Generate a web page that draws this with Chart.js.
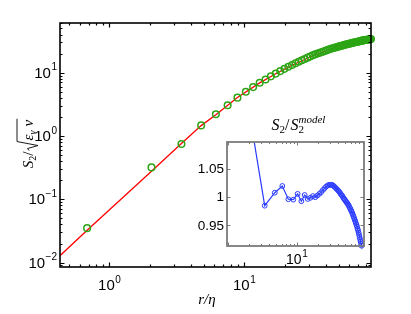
<!DOCTYPE html>
<html><head><meta charset="utf-8">
<script src="https://cdn.jsdelivr.net/npm/chart.js@4.4.1/dist/chart.umd.min.js"></script>
<style>
html,body{margin:0;padding:0;background:#fff;}
#wrap{position:relative;width:411px;height:314px;overflow:hidden;}
#main{position:absolute;left:0;top:0;}
#inset{position:absolute;left:190px;top:105px;}
</style></head><body>
<div id="wrap">
<canvas id="main" width="411" height="314"></canvas>
<canvas id="inset" width="185" height="165"></canvas>
</div>
<script>
// ---- data ----
const rValues = [0.683,2.049,3.415,4.781,6.147,7.513,8.879,10.245,11.611,12.977,14.343,15.709,17.075,18.441,19.807,21.173,
 22.539,23.905,25.271,26.637,28.003,29.369,30.735,32.101,33.467,34.833,36.199,37.565,38.931,40.297,41.663,43.029,
 44.395,45.761,47.127,48.493,49.859,51.225,52.591,53.957,55.323,56.689,58.055,59.421,60.787,62.153,63.519,64.885,
 66.251,67.617,68.983,70.349,71.715,73.081,74.447,75.813,77.179,78.545,79.911,81.277,82.643,84.009,85.375,86.741];
const s2Values = [0.0350,0.319,0.748,1.47,2.21,3.05,4.03,5.01,5.92,6.92,7.80,8.75,9.66,10.59,11.50,12.38,
 13.24,14.09,14.90,15.69,16.48,17.26,18.04,18.83,19.46,20.07,20.67,21.26,21.84,22.43,23.00,23.58,
 24.03,24.48,24.93,25.37,25.80,26.24,26.66,27.08,27.50,27.92,28.28,28.61,28.94,29.27,29.59,29.91,
 30.23,30.53,30.84,31.15,31.45,31.75,32.05,32.34,32.56,32.76,32.96,33.16,33.36,33.55,33.75,33.94];
const ratioValues = [1.08,1.15,0.985,1.008,1.020,0.9965,0.9957,1.006,0.993,1.004,0.997,0.999,1.002,1.000,1.003,1.006,
 1.009,1.013,1.016,1.019,1.021,1.022,1.022,1.022,1.021,1.019,1.017,1.015,1.013,1.011,1.009,1.006,
 1.004,1.002,0.999,0.997,0.995,0.993,0.991,0.989,0.987,0.985,0.982,0.980,0.977,0.975,0.972,0.969,
 0.966,0.963,0.960,0.957,0.954,0.951,0.948,0.944,0.941,0.937,0.933,0.929,0.925,0.921,0.917,0.914];
const modelR = [0.43,0.683,2.049,3.415,4.781,6.147,8.879,12.977,17.075,22.539,28.003,34.833,43.029,52.591,63.519,75.813,86.741];
const modelValues = [0.01285,0.0324,0.277,0.760,1.458,2.167,4.05,6.91,9.63,13.11,16.16,19.73,23.42,26.90,30.41,34.22,37.13];
const mainXTickExps = [0, 1];
const mainYTickExps = [-2, -1, 0, 1];
const insetXTickExps = [1];
const insetYTicks = [0.95, 1, 1.05];
const insetYTickLabels = ['0.95', '1', '1.05'];

const SANS = '"Liberation Sans", Arial, sans-serif';
const SERIF = '"Liberation Serif", "Times New Roman", serif';

function logTicks(min, max){
  const out = [];
  for (let d = Math.floor(Math.log10(min)); d <= Math.ceil(Math.log10(max)); d++){
    for (let m = 1; m <= 9; m++){
      const v = m * Math.pow(10, d);
      if (v >= min*0.9999 && v <= max*1.0001) out.push({v, major: m === 1});
    }
  }
  return out;
}
function drawPow(ctx, x, y, exp, align, size){
  const base = '10', e = String(exp).replace('-', '\u2212');
  ctx.font = size + 'px ' + SANS;
  const wb = ctx.measureText(base).width;
  const es = Math.round(size*0.68);
  ctx.font = es + 'px ' + SANS;
  const we = ctx.measureText(e).width;
  const total = wb + we + 0.5;
  let x0 = align === 'right' ? x - total : x - total/2;
  ctx.textAlign = 'left';
  ctx.textBaseline = 'alphabetic';
  ctx.font = size + 'px ' + SANS;
  ctx.fillText(base, x0, y);
  ctx.font = es + 'px ' + SANS;
  ctx.fillText(e, x0 + wb + 0.5, y - size*0.48);
}

const mainAxes = {
  id: 'mainAxes',
  afterDraw(chart){
    const {ctx, chartArea: a, scales} = chart;
    const xs = scales.x, ys = scales.y;
    ctx.save();
    ctx.strokeStyle = '#000'; ctx.lineWidth = 1.2;
    ctx.beginPath();
    logTicks(xs.min, xs.max).forEach(t => {
      const px = Math.round(xs.getPixelForValue(t.v)) + 0.5, L = t.major ? 4.5 : 2.5;
      ctx.moveTo(px, a.bottom); ctx.lineTo(px, a.bottom - L);
      ctx.moveTo(px, a.top); ctx.lineTo(px, a.top + L);
    });
    logTicks(ys.min, ys.max).forEach(t => {
      const py = Math.round(ys.getPixelForValue(t.v)) + 0.5, L = t.major ? 4.5 : 2.5;
      ctx.moveTo(a.left, py); ctx.lineTo(a.left + L, py);
      ctx.moveTo(a.right, py); ctx.lineTo(a.right - L, py);
    });
    ctx.stroke();
    ctx.lineWidth = 1.6;
    ctx.strokeRect(a.left, a.top, a.right - a.left, a.bottom - a.top);
    ctx.fillStyle = '#000';
    mainXTickExps.forEach(e => drawPow(ctx, xs.getPixelForValue(Math.pow(10, e)), a.bottom + 23, e, 'center', 15));
    mainYTickExps.forEach(e => drawPow(ctx, a.left - 3, ys.getPixelForValue(Math.pow(10, e)) + 5, e, 'right', 15));
    // x title r/eta
    ctx.font = 'italic 15px ' + SERIF;
    ctx.textAlign = 'center'; ctx.textBaseline = 'alphabetic';
    ctx.fillText('r/\u03b7', 207, 304);
    // y title S2 / sqrt(eps_v nu)
    ctx.translate(33, 144);
    ctx.rotate(-Math.PI/2);
    const parts = [
      {t:'S', f:'italic 15px ' + SERIF, dy:0},
      {t:'2', f:'10px ' + SERIF, dy:3},
      {t:'/', f:'15px ' + SERIF, dy:0, pad:1},
      {rad:true, w:10},
      {t:'\u03b5', f:'italic 15px ' + SERIF, dy:0},
      {t:'v', f:'italic 10px ' + SERIF, dy:3},
      {t:' \u03bd', f:'italic 15px ' + SERIF, dy:0}
    ];
    let total = 0;
    parts.forEach(p => { if (p.rad) p.width = p.w; else { ctx.font = p.f; p.width = ctx.measureText(p.t).width + (p.pad||0); } total += p.width; });
    let x = -total/2, radStart = 0;
    ctx.textAlign = 'left';
    parts.forEach(p => {
      if (p.rad){ radStart = x; }
      else { ctx.font = p.f; ctx.fillText(p.t, x, p.dy); }
      x += p.width;
    });
    ctx.lineWidth = 0.9;
    ctx.beginPath();
    ctx.moveTo(radStart, -4); ctx.lineTo(radStart + 2, -5.5);
    ctx.lineTo(radStart + 5, 5); ctx.lineTo(radStart + 9, -16);
    ctx.lineTo(x + 1, -16);
    ctx.stroke();
    ctx.restore();
  }
};

new Chart(document.getElementById('main'), {
  type: 'line',
  data: {
    datasets: [
      { label: 'S2', data: rValues.map((r, i) => ({x: r, y: s2Values[i]})),
        showLine: false, pointRadius: 3.3, pointBorderWidth: 1.5,
        pointBorderColor: '#2ba514', pointBackgroundColor: 'rgba(0,0,0,0)', clip: false },
      { label: 'model', data: modelR.map((r, i) => ({x: r, y: modelValues[i]})),
        borderColor: '#ff0000', borderWidth: 1.3, pointRadius: 0, tension: 0, fill: false, clip: 0 }
    ]
  },
  options: {
    responsive: false, animation: false, devicePixelRatio: 1,
    layout: { padding: { left: 60, top: 23, right: 40, bottom: 47 } },
    plugins: { legend: { display: false }, tooltip: { enabled: false } },
    scales: {
      x: { type: 'logarithmic', min: 0.43, max: 86.741, display: false, bounds: 'data' },
      y: { type: 'logarithmic', min: 0.00852, max: 60.9, display: false, bounds: 'data' }
    }
  },
  plugins: [mainAxes]
});

const insetAxes = {
  id: 'insetAxes',
  beforeDatasetsDraw(chart){
    const {ctx, chartArea: a} = chart;
    ctx.save(); ctx.fillStyle = '#fff';
    ctx.fillRect(a.left, a.top, a.right - a.left, a.bottom - a.top);
    ctx.restore();
  },
  afterDraw(chart){
    const {ctx, chartArea: a, scales} = chart;
    const xs = scales.x, ys = scales.y;
    ctx.save();
    ctx.strokeStyle = '#7a7a7a'; ctx.lineWidth = 1;
    ctx.beginPath();
    logTicks(xs.min, xs.max).forEach(t => {
      const px = Math.round(xs.getPixelForValue(t.v)) + 0.5, L = t.major ? 3.5 : 2;
      ctx.moveTo(px, a.bottom); ctx.lineTo(px, a.bottom - L);
      ctx.moveTo(px, a.top); ctx.lineTo(px, a.top + L);
    });
    insetYTicks.forEach(v => {
      const py = Math.round(ys.getPixelForValue(v)) + 0.5;
      ctx.moveTo(a.left, py); ctx.lineTo(a.left + 3.5, py);
      ctx.moveTo(a.right, py); ctx.lineTo(a.right - 3.5, py);
    });
    ctx.stroke();
    ctx.lineWidth = 1.8;
    ctx.strokeRect(a.left, a.top, a.right - a.left, a.bottom - a.top);
    ctx.fillStyle = '#000';
    ctx.font = '13.5px ' + SANS; ctx.textAlign = 'right'; ctx.textBaseline = 'middle';
    insetYTicks.forEach((v, i) => ctx.fillText(insetYTickLabels[i], a.left - 3, ys.getPixelForValue(v) + 0.5));
    insetXTickExps.forEach(e => drawPow(ctx, xs.getPixelForValue(Math.pow(10, e)), a.bottom + 18, e, 'center', 14));
    // title S_2 / S_2^{model}
    const parts = [
      {t:'S', f:'italic 16px ' + SERIF, dy:0},
      {t:'2', f:'11px ' + SERIF, dy:3},
      {t:'/', f:'16px ' + SERIF, dy:0, pad:1},
      {t:'S', f:'italic 16px ' + SERIF, dy:0},
      {t:'2', f:'11px ' + SERIF, dy:3, keep:true},
      {t:'model', f:'italic 11px ' + SERIF, dy:-7}
    ];
    parts.forEach(p => { ctx.font = p.f; p.width = ctx.measureText(p.t).width + (p.pad||0); });
    const total = parts.reduce((s, p) => s + (p.keep ? 0 : p.width), 0);
    let x = (a.left + a.right)/2 - total/2 + 3;
    ctx.textAlign = 'left'; ctx.textBaseline = 'alphabetic';
    const by = a.top - 12;
    parts.forEach(p => { ctx.font = p.f; ctx.fillText(p.t, x, by + p.dy); if (!p.keep) x += p.width; });
    ctx.restore();
  }
};

new Chart(document.getElementById('inset'), {
  type: 'line',
  data: {
    datasets: [
      { label: 'ratio', data: rValues.map((r, i) => ({x: r, y: ratioValues[i]})),
        borderColor: '#2a3cff', borderWidth: 1.2, pointRadius: 2.4, pointBorderWidth: 1,
        pointBorderColor: '#2a3cff', pointBackgroundColor: 'rgba(0,0,0,0)', tension: 0, fill: false,
        clip: {left: 0, top: 0, right: 4, bottom: 4} }
    ]
  },
  options: {
    responsive: false, animation: false, devicePixelRatio: 1,
    layout: { padding: { left: 37, top: 37, right: 11, bottom: 24 } },
    plugins: { legend: { display: false }, tooltip: { enabled: false } },
    scales: {
      x: { type: 'logarithmic', min: 0.97, max: 94, display: false, bounds: 'data' },
      y: { type: 'linear', min: 0.9135, max: 1.098, display: false, bounds: 'data' }
    }
  },
  plugins: [insetAxes]
});
</script>
</body></html>
